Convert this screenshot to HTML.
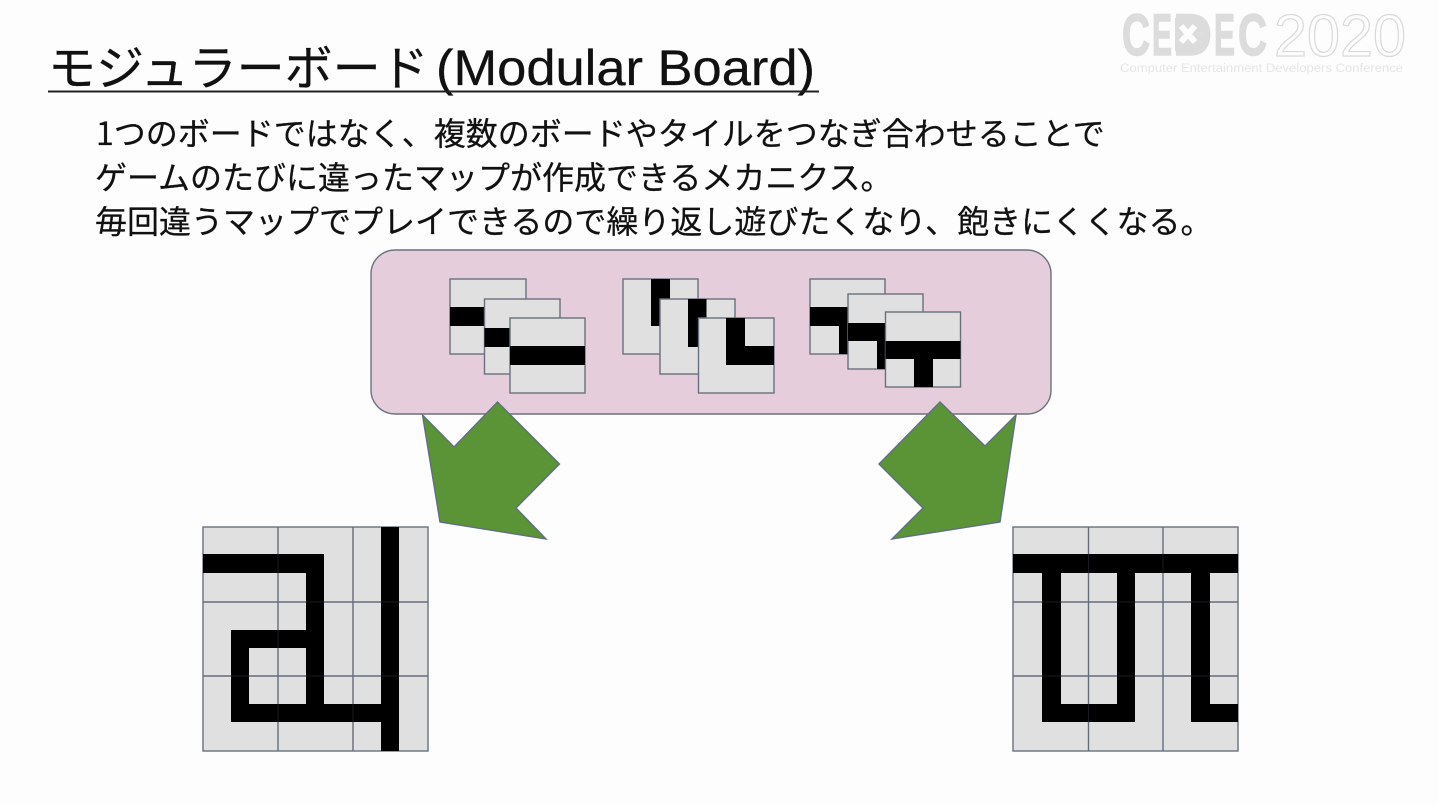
<!DOCTYPE html>
<html lang="ja"><head><meta charset="utf-8"><title>モジュラーボード</title>
<style>
html,body{margin:0;padding:0;background:#fdfdfd;width:1438px;height:805px;overflow:hidden}
svg{display:block}
text{font-family:"Liberation Sans","Noto Sans CJK JP",sans-serif}
.jp{font-family:"Noto Sans CJK JP","Liberation Sans",sans-serif;fill:#111;stroke:#111;stroke-width:.25}
.lg{font-weight:700;font-size:58px;fill:#dcdcdc;stroke:#dcdcdc;stroke-width:1.5}
.t{fill:#e0e0e0;stroke:#68707c;stroke-width:1.4}
.g{stroke:#68707c;stroke-width:1.4;fill:none}
.o{stroke:#5a6672;stroke-width:.8;fill:none;opacity:.35}
</style></head><body>
<svg width="1438" height="805" viewBox="0 0 1438 805" xmlns="http://www.w3.org/2000/svg">
<rect width="1438" height="805" fill="#fdfdfd"/>

<!-- logo -->
<text class="lg" x="1122" y="55" textLength="28" lengthAdjust="spacingAndGlyphs">C</text>
<text class="lg" x="1152" y="55" textLength="20" lengthAdjust="spacingAndGlyphs">E</text>
<text class="lg" x="1173" y="55" textLength="39" lengthAdjust="spacingAndGlyphs">D</text>
<text class="lg" x="1214" y="55" textLength="21" lengthAdjust="spacingAndGlyphs">E</text>
<text class="lg" x="1238" y="55" textLength="29" lengthAdjust="spacingAndGlyphs">C</text>
<rect x="1175" y="18" width="26" height="33" fill="#dcdcdc"/>
<path d="M1181 26l14 16M1195 26l-14 16" stroke="#fdfdfd" stroke-width="6"/>
<text x="1274" y="56" font-size="59" fill="none" stroke="#dadada" stroke-width="1.2" textLength="132" lengthAdjust="spacingAndGlyphs">2020</text>
<text x="1120" y="72" font-size="11.500" fill="#e6e6e6" textLength="283" lengthAdjust="spacingAndGlyphs">Computer Entertainment Developers Conference</text>

<!-- title -->
<text class="jp" x="48" y="85" font-size="48">モジュラーボード</text>
<text x="436" y="85" font-size="50" fill="#111" stroke="#111" stroke-width=".3" textLength="379" lengthAdjust="spacingAndGlyphs">(Modular Board)</text>
<rect x="48" y="90.500" width="771" height="2" fill="#222"/>

<!-- body -->
<text class="jp" x="96" y="145" font-size="32">1つのボードではなく、複数のボードやタイルをつなぎ合わせることで</text>
<text class="jp" x="95" y="189" font-size="32">ゲームのたびに違ったマップが作成できるメカニクス。</text>
<text class="jp" x="95" y="233" font-size="32">毎回違うマップでプレイできるので繰り返し遊びたくなり、飽きにくくなる。</text>

<!-- pink panel -->
<rect x="371" y="250" width="680" height="164" rx="24" ry="24" fill="#e6cddb" stroke="#6b7280" stroke-width="1.4"/>

<!-- group 1 -->
<rect class="t" x="450" y="279" width="76" height="75"/>
<rect x="450" y="307" width="76" height="19"/>
<rect class="t" x="484.500" y="299" width="75.500" height="75"/>
<rect x="484.500" y="328" width="75.500" height="19"/>
<rect class="t" x="510" y="318" width="75" height="75"/>
<rect x="510" y="346" width="75" height="19"/>

<!-- group 2 -->
<rect class="t" x="623" y="279" width="75" height="75"/>
<rect x="651" y="279" width="19" height="47"/>
<rect class="t" x="660" y="299" width="75" height="75"/>
<rect x="688" y="299" width="18.500" height="48"/>
<rect class="t" x="698.500" y="318" width="75.500" height="75"/>
<path d="M726 318h19v28h29v19h-48z"/>

<!-- group 3 -->
<rect class="t" x="810" y="279" width="75" height="75"/>
<path d="M810 307H885V326H858V354H839V326H810Z"/>
<rect class="t" x="848" y="294" width="75" height="75"/>
<path d="M848 323h75v18h-28v28h-18v-28h-29z"/>
<rect class="t" x="885.500" y="312" width="75" height="75"/>
<path d="M885.500 341h75v18h-27.500v28h-19v-28h-28.500z"/>

<!-- arrows -->
<polygon points="422.500,415 454,447 497.500,402 559.500,464 516,508 546,539 440,522" fill="#5b9436" stroke="#5f7080" stroke-width="1.4"/>
<polygon points="1016,415 985,446 940,402 879,464 923,508 892,539 1000,522" fill="#5b9436" stroke="#5f7080" stroke-width="1.4"/>

<!-- left grid -->
<rect class="t" x="203" y="527" width="225" height="224"/>
<path class="g" d="M278 527V751M353 527V751M203 602H428M203 676H428"/>
<path d="M203 554H324V704H381V527H399V751H381V722H231V630H306V573H203Z M249 648V704H306V648Z" fill-rule="evenodd"/>
<path class="o" d="M278 527V751M353 527V751M203 602H428M203 676H428"/>

<!-- right grid -->
<rect class="t" x="1013" y="527" width="225" height="224"/>
<path class="g" d="M1088.500 527V751M1163 527V751M1013 602H1238M1013 676H1238"/>
<path d="M1013 554H1238V573H1210V704H1238V722H1191V573H1135V722H1042V573H1013Z M1061 573V704H1117V573Z" fill-rule="evenodd"/>
<path class="o" d="M1088.500 527V751M1163 527V751M1013 602H1238M1013 676H1238"/>
</svg>
</body></html>
